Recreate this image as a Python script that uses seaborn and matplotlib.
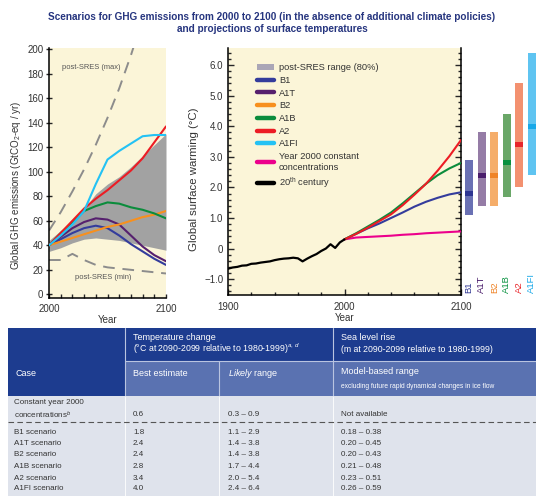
import numpy as np
import pandas as pd
import matplotlib
matplotlib.use("Agg")
import matplotlib.pyplot as plt
import seaborn as sns
from matplotlib.patches import Rectangle, Patch
from matplotlib.lines import Line2D
from matplotlib.ticker import MultipleLocator

# ---------------- data ----------------
scenarios = ["B1", "A1T", "B2", "A1B", "A2", "A1FI"]

emis_years = [2000, 2010, 2020, 2030, 2040, 2050, 2060, 2070, 2080, 2090, 2100]
emis_B1 = [40, 45, 50, 54, 56, 54, 48, 41, 35, 29, 24]
emis_A1T = [40, 47, 54, 59, 62, 61, 57, 48, 39, 32, 27]
emis_B2 = [40, 43, 46, 49, 52, 55, 57, 60, 63, 65, 68]
emis_A1B = [40, 50, 59, 68, 72, 75, 74, 71, 69, 66, 62]
emis_A2 = [40, 50, 60, 70, 78, 85, 93, 101, 111, 124, 137]
emis_A1FI = [40, 48, 57, 68, 90, 110, 117, 123, 129, 130, 130]
range_low = [35, 38, 42, 45, 46, 45, 44, 42, 40, 38, 36]
range_high = [44, 52, 60, 70, 82, 90, 96, 104, 113, 122, 131]
sres_max_years = [2000, 2010, 2020, 2030, 2040, 2050, 2060, 2070, 2080]
sres_max = [52, 67, 84, 102, 122, 144, 168, 195, 225]
sres_min = [28, 28, 33, 28, 24, 22, 21, 20, 19, 18, 17]

hist_years = [1900, 1904, 1908, 1912, 1916, 1920, 1924, 1928, 1932, 1936, 1940, 1944, 1948,
              1952, 1956, 1960, 1964, 1968, 1972, 1976, 1980, 1984, 1988, 1992, 1996, 2000]
hist_temp = [-0.66, -0.62, -0.6, -0.56, -0.55, -0.5, -0.49, -0.46, -0.44, -0.42, -0.38, -0.35, -0.33,
             -0.32, -0.3, -0.32, -0.42, -0.33, -0.25, -0.18, -0.08, 0.0, 0.14, 0.02, 0.2, 0.3]

proj_years = [2000, 2010, 2020, 2030, 2040, 2050, 2060, 2070, 2080, 2090, 2100]
temp_B1 = [0.3, 0.48, 0.66, 0.82, 1.0, 1.18, 1.37, 1.53, 1.66, 1.77, 1.84]
temp_A1B = [0.3, 0.5, 0.72, 0.94, 1.18, 1.48, 1.8, 2.12, 2.4, 2.62, 2.8]
temp_A2 = [0.3, 0.48, 0.68, 0.9, 1.12, 1.42, 1.76, 2.12, 2.55, 3.02, 3.55]
temp_const = [0.3, 0.36, 0.38, 0.4, 0.42, 0.45, 0.47, 0.5, 0.52, 0.54, 0.56]

best_est = [1.8, 2.4, 2.4, 2.8, 3.4, 4.0]
likely_low = [1.1, 1.4, 1.4, 1.7, 2.0, 2.4]
likely_high = [2.9, 3.8, 3.8, 4.4, 5.4, 6.4]
sea_low = [0.18, 0.20, 0.20, 0.21, 0.23, 0.26]
sea_high = [0.38, 0.45, 0.43, 0.48, 0.51, 0.59]
const_best, const_low, const_high = 0.6, 0.3, 0.9

# ---------------- styles ----------------
line_col = {"B1": "#343c9c", "A1T": "#56206e", "B2": "#f7901e", "A1B": "#0b8c3c",
            "A2": "#ec1c24", "A1FI": "#24c2f4"}
bar_light = ["#6a71b4", "#957ca6", "#f5ad6a", "#6aa768", "#f39170", "#5fc4f1"]
bar_dark = ["#2e3592", "#4a1d6b", "#ef8326", "#08913f", "#e8262b", "#18a8e8"]
const_col = "#ec008c"
panel_bg = "#fbf5d8"
txt = "#333333"
navy = "#1d3c8f"
navy2 = "#5a72b1"

sns.set_theme(style="ticks")
plt.rcParams["font.family"] = ["Liberation Sans", "DejaVu Sans"]
plt.rcParams["mathtext.fontset"] = "custom"
plt.rcParams["mathtext.rm"] = "Liberation Sans"
plt.rcParams["mathtext.it"] = "Liberation Sans:italic"
plt.rcParams["mathtext.bf"] = "Liberation Sans:bold"

W, H = 536, 496
fig = plt.figure(figsize=(W / 100, H / 100), dpi=100)
fig.patch.set_facecolor("white")


def px_axes(x0, y0, x1, y1):
    return fig.add_axes([x0 / W, 1 - y1 / H, (x1 - x0) / W, (y1 - y0) / H])


fig.text(272 / W, 1 - 17 / H,
         "Scenarios for GHG emissions from 2000 to 2100 (in the absence of additional climate policies)",
         ha="center", va="center", fontsize=7.2, fontweight="bold", color="#26357f")
fig.text(272 / W, 1 - 29 / H, "and projections of surface temperatures",
         ha="center", va="center", fontsize=7.2, fontweight="bold", color="#26357f")

# ---------------- left panel: emissions ----------------
axL = px_axes(49, 48, 166, 298)
axL.set_facecolor(panel_bg)
axL.fill_between(emis_years, range_low, range_high, color="#a2a2a2", lw=0, zorder=1)
emis_df = pd.DataFrame({
    "year": emis_years * 6,
    "value": emis_B1 + emis_A1T + emis_B2 + emis_A1B + emis_A2 + emis_A1FI,
    "scenario": sum([[s] * len(emis_years) for s in scenarios], []),
})
sns.lineplot(data=emis_df, x="year", y="value", hue="scenario", palette=line_col,
             hue_order=scenarios, ax=axL, legend=False, linewidth=1.5, zorder=3)
axL.plot(sres_max_years, sres_max, color="#8c8c8c", lw=1.4, dashes=(6, 4), zorder=2)
axL.plot(emis_years, sres_min, color="#8c8c8c", lw=1.4, dashes=(6, 4), zorder=2)
axL.text(2036, 185, "post-SRES (max)", fontsize=5.4, color="#555555", ha="center", va="center")
axL.text(2046, 14, "post-SRES (min)", fontsize=5.4, color="#555555", ha="center", va="center")
axL.set_xlim(2000, 2100)
axL.set_ylim(-3, 201)
axL.set_xticks([2000, 2100])
axL.xaxis.set_minor_locator(MultipleLocator(10))
axL.set_yticks(range(0, 201, 20))
axL.tick_params(axis="x", which="both", direction="in", length=3, width=1, labelsize=7,
                labelcolor=txt, pad=4)
axL.tick_params(axis="y", which="both", direction="inout", length=4, width=1, labelsize=7,
                labelcolor=txt, pad=2)
axL.set_xlabel("Year", fontsize=7, color=txt, labelpad=1)
axL.set_ylabel("Global GHG emissions (GtCO$_2$-eq / yr)", fontsize=7, color=txt)
axL.yaxis.set_label_coords(-0.22, 0.45)
for s in ["top", "right"]:
    axL.spines[s].set_visible(False)
for s in ["left", "bottom"]:
    axL.spines[s].set_color("black")
    axL.spines[s].set_linewidth(1.1)

# ---------------- middle panel: temperature ----------------
axM = px_axes(228, 48, 461, 295)
axM.set_facecolor(panel_bg)
hist_df = pd.DataFrame({"year": hist_years, "temp": hist_temp})
sns.lineplot(data=hist_df, x="year", y="temp", color="black", lw=1.6, ax=axM, zorder=4)
temp_df = pd.DataFrame({
    "year": proj_years * 4,
    "temp": temp_const + temp_B1 + temp_A1B + temp_A2,
    "scenario": sum([[s] * len(proj_years) for s in ["const", "B1", "A1B", "A2"]], []),
})
pal_m = {"const": const_col, "B1": line_col["B1"], "A1B": line_col["A1B"], "A2": line_col["A2"]}
sns.lineplot(data=temp_df, x="year", y="temp", hue="scenario", palette=pal_m,
             hue_order=["const", "B1", "A1B", "A2"], ax=axM, legend=False, lw=1.5, zorder=3)
axM.set_xlim(1900, 2100)
axM.set_ylim(-1.52, 6.56)
axM.set_xticks([1900, 2000, 2100])
axM.xaxis.set_minor_locator(MultipleLocator(20))
axM.set_yticks([-1, 0, 1, 2, 3, 4, 5, 6])
axM.set_yticklabels(["\u22121.0", "0", "1.0", "2.0", "3.0", "4.0", "5.0", "6.0"])
axM.yaxis.set_minor_locator(MultipleLocator(0.2))
axM.tick_params(axis="both", which="both", direction="in", right=True, width=1, labelsize=7,
                labelcolor=txt)
axM.tick_params(axis="both", which="major", length=4)
axM.tick_params(axis="both", which="minor", length=2)
axM.tick_params(axis="x", pad=5)
axM.set_xlabel("Year", fontsize=7, color=txt, labelpad=1)
axM.set_ylabel("Global surface warming (\u00b0C)", fontsize=8.2, color=txt)
axM.yaxis.set_label_coords(-0.125, 0.47)
axM.spines["top"].set_visible(False)
for s in ["left", "bottom", "right"]:
    axM.spines[s].set_color("black")
    axM.spines[s].set_linewidth(1.1)

handles = [Patch(facecolor="#aaa6b6", edgecolor="none")]
labels = ["post-SRES range (80%)"]
for s in scenarios:
    handles.append(Line2D([], [], color=line_col[s], lw=3.2))
    labels.append(s)
handles.append(Line2D([], [], color=const_col, lw=3.2))
labels.append("Year 2000 constant\nconcentrations")
handles.append(Line2D([], [], color="black", lw=3.2))
labels.append("20$^{\\mathrm{th}}$ century")
axM.legend(handles, labels, loc="upper left", bbox_to_anchor=(0.095, 0.965), frameon=False,
           fontsize=6.7, handlelength=1.9, handleheight=0.6, handletextpad=0.5,
           labelspacing=0.4, labelcolor=txt, borderpad=0.2)

# ---------------- right bars: likely ranges ----------------
axB = px_axes(462, 48, 540, 295)
axB.set_ylim(axM.get_ylim())
axB.set_xlim(-0.58, 5.66)
xpos = np.arange(len(scenarios))
heights = [h - l for h, l in zip(likely_high, likely_low)]
axB.bar(xpos, heights, bottom=likely_low, width=0.62, color=bar_light, lw=0)
axB.bar(xpos, [0.16] * len(scenarios), bottom=[b - 0.08 for b in best_est], width=0.62,
        color=bar_dark, lw=0)
for i, s in enumerate(scenarios):
    axB.text(xpos[i], -1.45, s, rotation=90, ha="center", va="bottom", fontsize=6.8,
             color=bar_dark[i])
axB.axis("off")

# ---------------- table ----------------
axT = fig.add_axes([0, 0, 1, 1 - 326 / H])
axT.set_xlim(0, W)
axT.set_ylim(H, 326)
axT.axis("off")

axT.add_patch(Rectangle((8, 396), W - 8, H - 396, color="#dfe3ec", lw=0))
axT.add_patch(Rectangle((8, 328), 117, 68, color=navy, lw=0))
axT.add_patch(Rectangle((125, 328), W - 125, 33, color=navy, lw=0))
axT.add_patch(Rectangle((125, 361), W - 125, 35, color=navy2, lw=0))
axT.plot([125, W], [361, 361], color="#b9c4e0", lw=0.8)
axT.plot([125, 125], [328, 396], color="#b9c4e0", lw=0.8)
axT.plot([333, 333], [328, 396], color="#b9c4e0", lw=0.8)
axT.plot([219, 219], [361, 396], color="#b9c4e0", lw=0.8)
for xv in [125, 219, 333]:
    axT.plot([xv, xv], [396, H], color="white", lw=0.6)
axT.plot([8, W], [422, 422], color="#555555", lw=0.8, dashes=(5, 3))

hdr = dict(color="white", fontsize=6.5, va="center", ha="left")
axT.text(133, 338, "Temperature change", **hdr)
axT.text(133, 349, "(\u00b0C at 2090-2099 relative to 1980-1999)$^{a,\\,d}$", color="white",
         fontsize=6.3, va="center", ha="left")
axT.text(341, 338, "Sea level rise", **hdr)
axT.text(341, 349, "(m at 2090-2099 relative to 1980-1999)", color="white",
         fontsize=6.3, va="center", ha="left")
axT.text(15, 373, "Case", **hdr)
axT.text(133, 373, "Best estimate", **hdr)
axT.text(228, 373, "$\\mathit{Likely}$ range", **hdr)
axT.text(341, 372, "Model-based range", **hdr)
axT.text(341, 386, "excluding future rapid dynamical changes in ice flow",
         color="white", fontsize=4.8, va="center", ha="left")

body = dict(color=txt, fontsize=5.8, va="center", ha="left")
axT.text(14, 403, "Constant year 2000", **body)
axT.text(14, 415, "concentrations$^{b}$", **body)
axT.text(133, 415, f"{const_best:.1f}", **body)
axT.text(228, 415, f"{const_low:.1f} \u2013 {const_high:.1f}", **body)
axT.text(341, 415, "Not available", **body)
row_y = [432, 443.5, 455, 466.5, 478, 489]
for i, s in enumerate(scenarios):
    axT.text(14, row_y[i], f"{s} scenario", **body)
    axT.text(133, row_y[i], f"{best_est[i]:.1f}", **body)
    axT.text(228, row_y[i], f"{likely_low[i]:.1f} \u2013 {likely_high[i]:.1f}", **body)
    axT.text(341, row_y[i], f"{sea_low[i]:.2f} \u2013 {sea_high[i]:.2f}", **body)

fig.savefig("out.png", dpi=100)
